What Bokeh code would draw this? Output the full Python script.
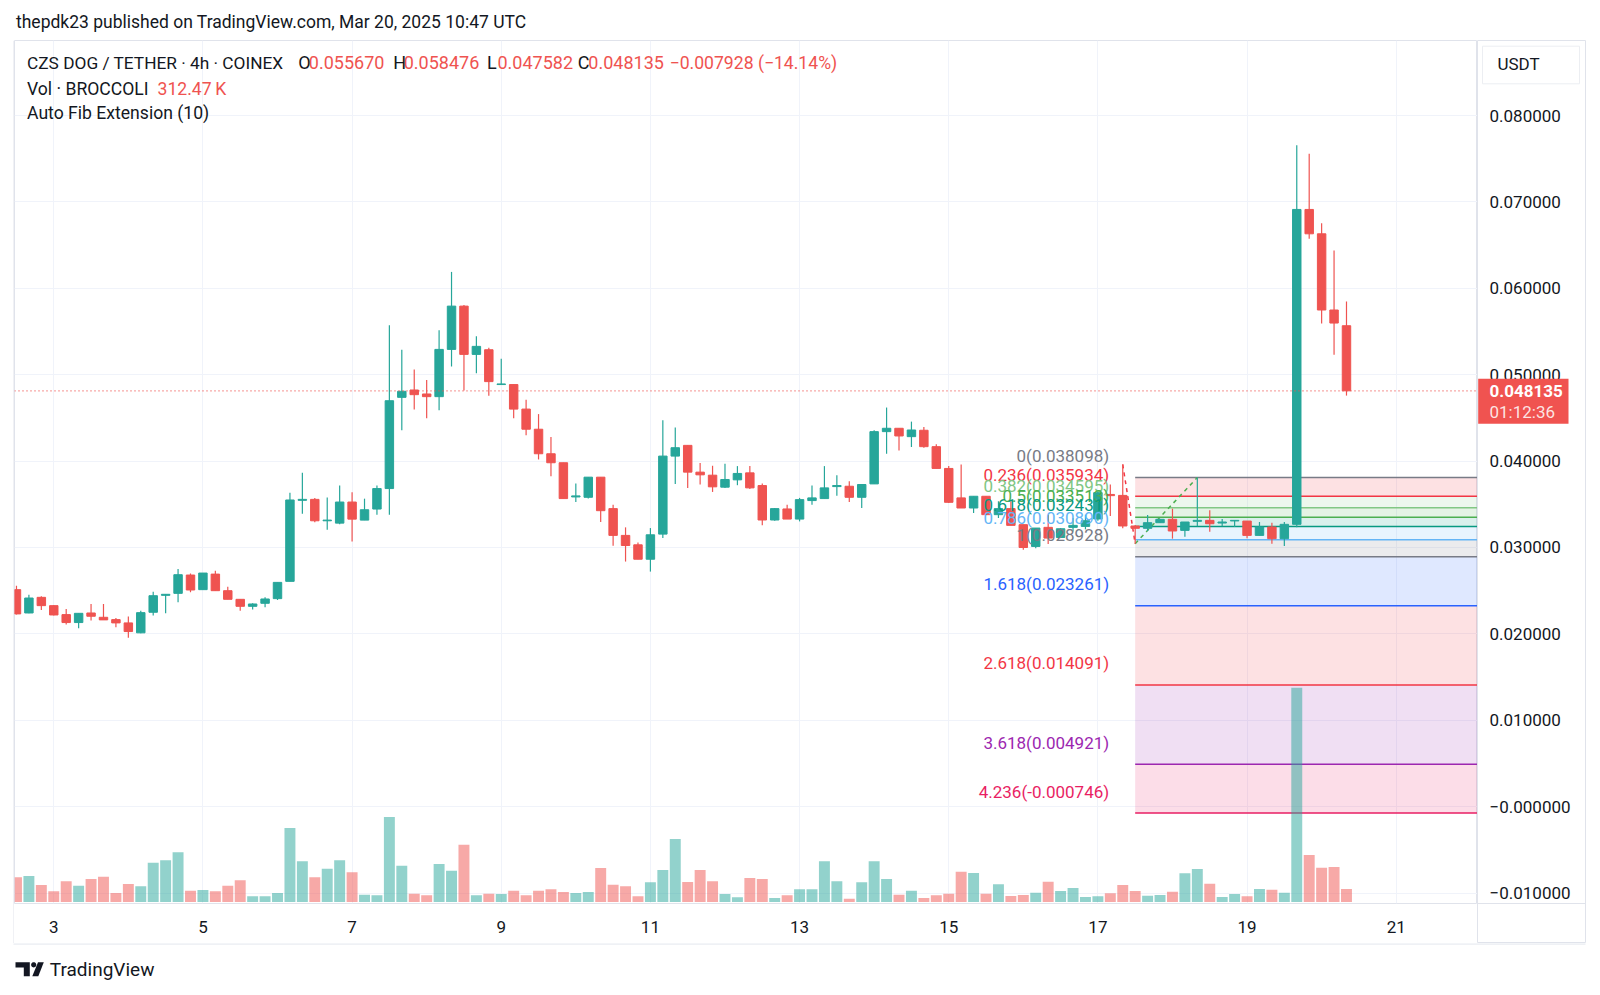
import math
from bokeh.plotting import figure
from bokeh.layouts import column, row
from bokeh.models import (Range1d, LinearAxis, FixedTicker, Grid, CustomJSTickFormatter,
                          Label, Span, ColumnDataSource)
from bokeh.core.properties import value
from bokeh.embed import file_html
from bokeh.resources import INLINE

# ---------------- data ----------------
first_day = 2.5          # first candle: Mar 2, 12:00 UTC (x in day-of-month)
candle_hours = 4

opens = [
    0.02512, 0.02242, 0.02423, 0.02327, 0.02223, 0.02131, 0.02242, 0.02192, 0.02165, 0.02127,
    0.02012, 0.02250, 0.02446, 0.02469, 0.02681, 0.02512, 0.02692, 0.02500, 0.02400, 0.02319,
    0.02354, 0.02408, 0.02608, 0.03546, 0.03557, 0.03309, 0.03282, 0.03526, 0.03317, 0.03445,
    0.03682, 0.04738, 0.04823, 0.04777, 0.04746, 0.05293, 0.05794, 0.05235, 0.05289, 0.04886,
    0.04886, 0.04602, 0.04369, 0.04085, 0.03981, 0.03585, 0.03581, 0.03814, 0.03450, 0.03140,
    0.03031, 0.02864, 0.03155, 0.04058, 0.04182, 0.03872, 0.03837, 0.03698, 0.03783, 0.03864,
    0.03717, 0.03318, 0.03446, 0.03329, 0.03543, 0.03566, 0.03705, 0.03709, 0.03581, 0.03736,
    0.04341, 0.04380, 0.04283, 0.04357, 0.04167, 0.03915, 0.03574, 0.03457, 0.03593, 0.03380,
    0.03450, 0.03264, 0.03012, 0.03233, 0.03116, 0.03233, 0.03244, 0.03330, 0.03614, 0.03603,
    0.03249, 0.03222, 0.03287, 0.03326, 0.03198, 0.03303, 0.03314, 0.03283, 0.03307, 0.03306,
    0.03140, 0.03237, 0.03102, 0.03268, 0.06913, 0.06631, 0.05749, 0.05567]
highs = [
    0.02558, 0.02454, 0.02435, 0.02330, 0.02288, 0.02238, 0.02346, 0.02346, 0.02185, 0.02200,
    0.02269, 0.02488, 0.02458, 0.02750, 0.02700, 0.02704, 0.02731, 0.02546, 0.02400, 0.02354,
    0.02423, 0.02596, 0.03635, 0.03864, 0.03573, 0.03580, 0.03717, 0.03639, 0.03565, 0.03717,
    0.05573, 0.05289, 0.05060, 0.04940, 0.05515, 0.06190, 0.05806, 0.05445, 0.05313, 0.05184,
    0.04886, 0.04711, 0.04544, 0.04279, 0.03981, 0.03740, 0.03814, 0.03814, 0.03496, 0.03233,
    0.03058, 0.03225, 0.04473, 0.04388, 0.04182, 0.03977, 0.03946, 0.03969, 0.03942, 0.03942,
    0.03740, 0.03457, 0.03496, 0.03574, 0.03717, 0.03942, 0.03837, 0.03767, 0.03729, 0.04357,
    0.04620, 0.04380, 0.04457, 0.04395, 0.04194, 0.03942, 0.03961, 0.03593, 0.03593, 0.03535,
    0.03535, 0.03264, 0.03225, 0.03380, 0.03225, 0.03340, 0.03380, 0.03660, 0.03730, 0.039611,
    0.03260, 0.03376, 0.03326, 0.03449, 0.03295, 0.038098, 0.03430, 0.03330, 0.03314, 0.03306,
    0.03295, 0.03287, 0.03295, 0.07656, 0.07559, 0.06754, 0.06437, 0.058476]
lows = [
    0.02225, 0.02238, 0.02277, 0.02212, 0.02108, 0.02065, 0.02154, 0.02162, 0.02077, 0.01954,
    0.02008, 0.02212, 0.02238, 0.02365, 0.02481, 0.02512, 0.02500, 0.02400, 0.02269, 0.02281,
    0.02308, 0.02392, 0.02608, 0.03390, 0.03293, 0.03204, 0.03270, 0.03068, 0.03317, 0.03379,
    0.03379, 0.04357, 0.04598, 0.04497, 0.04590, 0.05095, 0.04816, 0.05017, 0.04757, 0.04886,
    0.04497, 0.04299, 0.04019, 0.03826, 0.03566, 0.03527, 0.03566, 0.03295, 0.03020, 0.02837,
    0.02864, 0.02721, 0.03109, 0.03736, 0.03690, 0.03729, 0.03643, 0.03690, 0.03721, 0.03678,
    0.03256, 0.03310, 0.03329, 0.03302, 0.03496, 0.03566, 0.03600, 0.03527, 0.03457, 0.03736,
    0.04085, 0.04124, 0.04163, 0.04155, 0.03915, 0.03516, 0.03457, 0.03399, 0.03380, 0.03341,
    0.03256, 0.02973, 0.02992, 0.03039, 0.03109, 0.03186, 0.03210, 0.03310, 0.03364, 0.03222,
    0.030441, 0.03191, 0.03287, 0.03102, 0.03125, 0.03245, 0.03183, 0.03245, 0.03237, 0.03106,
    0.03140, 0.03044, 0.03017, 0.03234, 0.06573, 0.05594, 0.05230, 0.047582]
closes = [
    0.02231, 0.02415, 0.02327, 0.02219, 0.02131, 0.02238, 0.02204, 0.02162, 0.02127, 0.02027,
    0.02246, 0.02442, 0.02458, 0.02685, 0.02508, 0.02704, 0.02500, 0.02400, 0.02319, 0.02346,
    0.02404, 0.02596, 0.03550, 0.03557, 0.03309, 0.03317, 0.03526, 0.03328, 0.03437, 0.03682,
    0.04699, 0.04808, 0.04769, 0.04746, 0.05293, 0.05794, 0.05235, 0.05328, 0.04920, 0.04893,
    0.04602, 0.04369, 0.04085, 0.03981, 0.03566, 0.03597, 0.03814, 0.03426, 0.03140, 0.03023,
    0.02864, 0.03147, 0.04058, 0.04155, 0.03872, 0.03841, 0.03702, 0.03787, 0.03857, 0.03690,
    0.03318, 0.03450, 0.03329, 0.03554, 0.03574, 0.03690, 0.03717, 0.03581, 0.03729, 0.04341,
    0.04380, 0.04291, 0.04360, 0.04167, 0.03915, 0.03523, 0.03457, 0.03593, 0.03380, 0.03450,
    0.03256, 0.03000, 0.03225, 0.03109, 0.03217, 0.03256, 0.03310, 0.03634, 0.03600, 0.03249,
    0.03222, 0.03287, 0.03326, 0.03191, 0.03295, 0.03314, 0.03275, 0.03295, 0.03314, 0.03140,
    0.03237, 0.03102, 0.03268, 0.06913, 0.06631, 0.05749, 0.05598, 0.048135]
volumes_k = [
    593, 625, 409, 256, 497, 392, 553, 609, 216, 433,
    376, 945, 1001, 1193, 272, 288, 256, 392, 521, 136,
    136, 216, 1778, 977, 593, 801, 1001, 713, 176, 160,
    2043, 873, 200, 160, 913, 753, 1378, 160, 200, 192,
    272, 160, 272, 304, 240, 216, 240, 817, 417, 376,
    136, 473, 769, 1514, 481, 769, 497, 192, 112, 577,
    553, 96, 160, 304, 304, 977, 497, 80, 473, 977,
    553, 176, 272, 96, 160, 200, 729, 697, 200, 425,
    144, 168, 224, 489, 264, 336, 120, 136, 208, 409,
    264, 152, 168, 248, 689, 793, 441, 120, 192, 136,
    312, 296, 224, 5150, 1129, 825, 841, 312.47]

# Auto Fib Extension
fib_ratios = ["0", "0.236", "0.382", "0.5", "0.618", "0.786", "1", "1.618", "2.618", "3.618", "4.236"]
fib_values = [0.038098, 0.035934, 0.034595, 0.033513, 0.032431, 0.030890, 0.028928,
              0.023261, 0.014091, 0.004921, -0.000746]
fib_colors = ["#787b86", "#f23645", "#81c784", "#4caf50", "#089981", "#64b5f6", "#787b86",
              "#2962ff", "#f23645", "#9c27b0", "#e91e63"]
fib_pivot_idx = [89, 90, 95]            # candles of points A, B, C
fib_pivot_price = [0.039611, 0.030441, 0.038098]

price_ticks = [0.08, 0.07, 0.06, 0.05, 0.04, 0.03, 0.02, 0.01, 0.0, -0.01]
price_tick_labels = ["0.080000", "0.070000", "0.060000", "0.050000", "0.040000", "0.030000",
                     "0.020000", "0.010000", "\u22120.000000", "\u22120.010000"]
day_ticks = [3, 5, 7, 9, 11, 13, 15, 17, 19, 21]
day_tick_labels = ["3", "5", "7", "9", "11", "13", "15", "17", "19", "21"]

last_price_text = "0.048135"
countdown_text = "01:12:36"

# ---------------- style / geometry ----------------
FONT = "Roboto"
UP, DOWN = "#26a69a", "#ef5350"
TXT = "#131722"
BORDER = "#e0e3eb"
GRID = "#f0f3fa"

X0, X1 = 2.4735, 22.09
Y0, Y1 = -0.01121, 0.088686
FW, FH = 1463, 863          # chart pane
LEFT, TOP, AXIS_H = 14, 40, 40
STRIP_W, STRIP_PAD = 108, 15
ppx = FW / (X1 - X0)
ppy = FH / (Y1 - Y0)

n = len(opens)
xs = [first_day + i * candle_hours / 24 for i in range(n)]
colors = [UP if c >= o else DOWN for o, c in zip(opens, closes)]
src = ColumnDataSource(dict(
    x=xs, o=opens, h=highs, l=lows, c=closes,
    top=[max(o, c) for o, c in zip(opens, closes)],
    bot=[min(o, c) for o, c in zip(opens, closes)],
    color=colors, vol=volumes_k))


def clean(fig, outline=None):
    fig.xgrid.visible = False
    fig.ygrid.visible = False
    fig.outline_line_color = outline
    fig.background_fill_color = "white"
    fig.border_fill_color = "white"
    return fig


def pixel_fig(w, h):
    return clean(figure(frame_width=w, frame_height=h, x_range=Range1d(0, w),
                        y_range=Range1d(h, 0), x_axis_location=None, y_axis_location=None,
                        toolbar_location=None, output_backend="svg", min_border=0))


# ---------------- header ----------------
head = pixel_fig(1600, TOP)
head.text(x=[15.5], y=[21.5], text=["thepdk23 published on TradingView.com, Mar 20, 2025 10:47 UTC"],
          text_font=value(FONT), text_font_size="17.5px", text_color=TXT, text_baseline="middle")

# ---------------- left edge (border of the time scale) ----------------
edge = pixel_fig(LEFT, FH + AXIS_H)
edge.segment(x0=[LEFT - 0.5], x1=[LEFT - 0.5], y0=[0], y1=[FH + AXIS_H], line_color=BORDER, line_width=1)

# ---------------- main chart pane ----------------
p = clean(figure(frame_width=FW, frame_height=FH, x_range=Range1d(X0, X1), y_range=Range1d(Y0, Y1),
                 x_axis_location=None, y_axis_location=None, toolbar_location=None,
                 output_backend="svg", min_border_left=0, min_border_right=0,
                 min_border_top=0, min_border_bottom=AXIS_H), outline=BORDER)
p.outline_line_width = 1
p.extra_y_ranges = {"vol": Range1d(-36, 20703)}

yt = FixedTicker(ticks=price_ticks)
xt = FixedTicker(ticks=day_ticks)
fmt_code = ("for (let i = 0; i < t.length; i++) { if (Math.abs(t[i] - tick) < 1e-9) return l[i]; }"
            " return '';")
xax = LinearAxis(ticker=xt, formatter=CustomJSTickFormatter(
    args=dict(t=day_ticks, l=day_tick_labels), code=fmt_code))
xax.axis_line_color = None
xax.major_tick_line_color = None
xax.minor_tick_line_color = None
xax.major_label_text_font = FONT
xax.major_label_text_font_size = "17px"
xax.major_label_text_color = TXT
xax.major_label_standoff = 11
p.add_layout(xax, "below")
p.add_layout(Grid(dimension=0, ticker=xt, grid_line_color=GRID, grid_line_width=1))
p.add_layout(Grid(dimension=1, ticker=yt, grid_line_color=GRID, grid_line_width=1))

# fib extension boxes and lines
xB = xs[fib_pivot_idx[1]]
fib_right = X1 + 1
p.quad(left=[xB] * (len(fib_values) - 1), right=[fib_right] * (len(fib_values) - 1),
       top=fib_values[:-1], bottom=fib_values[1:], fill_color=fib_colors[1:],
       fill_alpha=0.15, line_color=None)
p.segment(x0=[xB] * len(fib_values), x1=[fib_right] * len(fib_values),
          y0=fib_values, y1=fib_values, line_color=fib_colors, line_width=1.5)

# volume
p.vbar(x="x", width=0.88 / 6, top="vol", bottom=0, source=src, y_range_name="vol",
       fill_color="color", fill_alpha=0.5, line_color=None)

# fib pivot dashed lines
pxs = [xs[i] for i in fib_pivot_idx]
p.line(x=pxs[0:2], y=fib_pivot_price[0:2], line_color="#f23645", line_width=1.5, line_dash="4 4")
p.line(x=pxs[1:3], y=fib_pivot_price[1:3], line_color="#4caf50", line_width=1.5, line_dash="4 4")

# candles
p.segment(x0="x", x1="x", y0="l", y1="h", source=src, line_color="color", line_width=1.2)
p.vbar(x="x", width=0.68 / 6, top="top", bottom="bot", source=src,
       fill_color="color", line_color="color", line_width=1)

# last price line
p.add_layout(Span(location=closes[-1], dimension="width", line_color=DOWN,
                  line_dash="1 3", line_width=1.2))

# fib labels
p.text(x=[xB - 26 / ppx] * len(fib_values), y=[v + 21.5 / ppy for v in fib_values],
       text=[f"{r}({v:.6f})" for r, v in zip(fib_ratios, fib_values)],
       text_color=fib_colors, text_align="right", text_baseline="middle",
       text_font=value(FONT), text_font_size="17px")


def lab(x, y, text, color=TXT, size="18px"):
    # x measured from the page's left edge; the pane starts LEFT px in
    p.add_layout(Label(x=x - LEFT, y=y, x_units="canvas", y_units="canvas", text=text,
                       text_color=color, text_font=FONT, text_font_size=size,
                       text_align="left", text_baseline="middle"))


# legend lines (pane canvas starts at page y = TOP)
lab(26.5, 22, "CZS DOG / TETHER \u00b7 4h \u00b7 COINEX", size="17.3px")
ohlc_letters = ["O", "H", "L", "C"]
ohlc_vals = [opens[-1], highs[-1], lows[-1], closes[-1]]
letter_x = [297.8, 392.7, 486.5, 577.3]
for lx, letter, v in zip(letter_x, ohlc_letters, ohlc_vals):
    lab(lx, 22, letter)
    lab(lx + 10.5, 22, f"{v:.6f}", color=DOWN)
lab(669.1, 22, "\u22120.007928 (\u221214.14%)", color=DOWN, size="17.6px")
lab(26.5, 48, "Vol \u00b7 BROCCOLI", size="17.6px")
lab(157, 48, "312.47\u2009K", color=DOWN, size="17.6px")
lab(26.5, 72.5, "Auto Fib Extension (10)", size="17.6px")

# ---------------- price scale strip ----------------
def ys(page_y):
    return Y1 - (page_y - TOP) / ppy


strip = clean(figure(frame_width=STRIP_W, frame_height=FH + AXIS_H, x_range=Range1d(0, STRIP_W),
                     y_range=Range1d(ys(TOP + FH + AXIS_H), Y1), x_axis_location=None,
                     y_axis_location=None, toolbar_location=None, output_backend="svg",
                     min_border_left=0, min_border_right=STRIP_PAD, min_border_top=0,
                     min_border_bottom=0), outline=BORDER)
strip.segment(x0=[0], x1=[STRIP_W], y0=[ys(TOP + FH)], y1=[ys(TOP + FH)], line_color=BORDER, line_width=1)
strip.text(x=[12] * len(price_ticks), y=price_ticks, text=price_tick_labels,
           text_font=value(FONT), text_font_size="17px", text_color=TXT, text_baseline="middle")
# currency box
strip.quad(left=[5], right=[102], top=[ys(45.7)], bottom=[ys(83.3)], fill_color="white",
           line_color="#eceef2", line_width=1)
strip.text(x=[20], y=[ys(63)], text=["USDT"], text_font=value(FONT), text_font_size="17px",
           text_color=TXT, text_baseline="middle")
# last price tag
strip.quad(left=[0.7], right=[91], top=[closes[-1] + 12 / ppy], bottom=[closes[-1] - 33 / ppy],
           fill_color="#f05350", line_color=None)
strip.text(x=[12], y=[closes[-1]], text=[last_price_text], text_font=value(FONT),
           text_font_size="17px", text_font_style="bold", text_color="white", text_baseline="middle")
strip.text(x=[12], y=[closes[-1] - 21.4 / ppy], text=[countdown_text], text_font=value(FONT),
           text_font_size="17px", text_color="white", text_alpha=0.85, text_baseline="middle")

# ---------------- footer ----------------
FOOT_H = 995 - (TOP + FH + AXIS_H)
foot = pixel_fig(1600, FOOT_H)
foot.segment(x0=[LEFT - 1], x1=[LEFT + FW + STRIP_W], y0=[0.3], y1=[0.3], line_color=BORDER, line_width=1.2)
circ_x = [33.2 + 2.6 * math.cos(2 * math.pi * k / 24) for k in range(24)]
circ_y = [21.3 + 2.6 * math.sin(2 * math.pi * k / 24) for k in range(24)]
foot.patches(xs=[[15, 29.3, 29.3, 23.3, 23.3, 15], circ_x, [37.5, 43.3, 37.8, 31.8]],
             ys=[[18.7, 18.7, 32.7, 32.7, 23.9, 23.9], circ_y, [18.7, 18.7, 32.7, 32.7]],
             fill_color=TXT, line_color=None)
foot.text(x=[49.3], y=[26], text=["TradingView"], text_font=value(FONT), text_font_size="19px",
          text_color=TXT, text_baseline="middle")

layout = column(head, row(edge, p, strip), foot)
open("out.html", "w").write(file_html(layout, INLINE))
